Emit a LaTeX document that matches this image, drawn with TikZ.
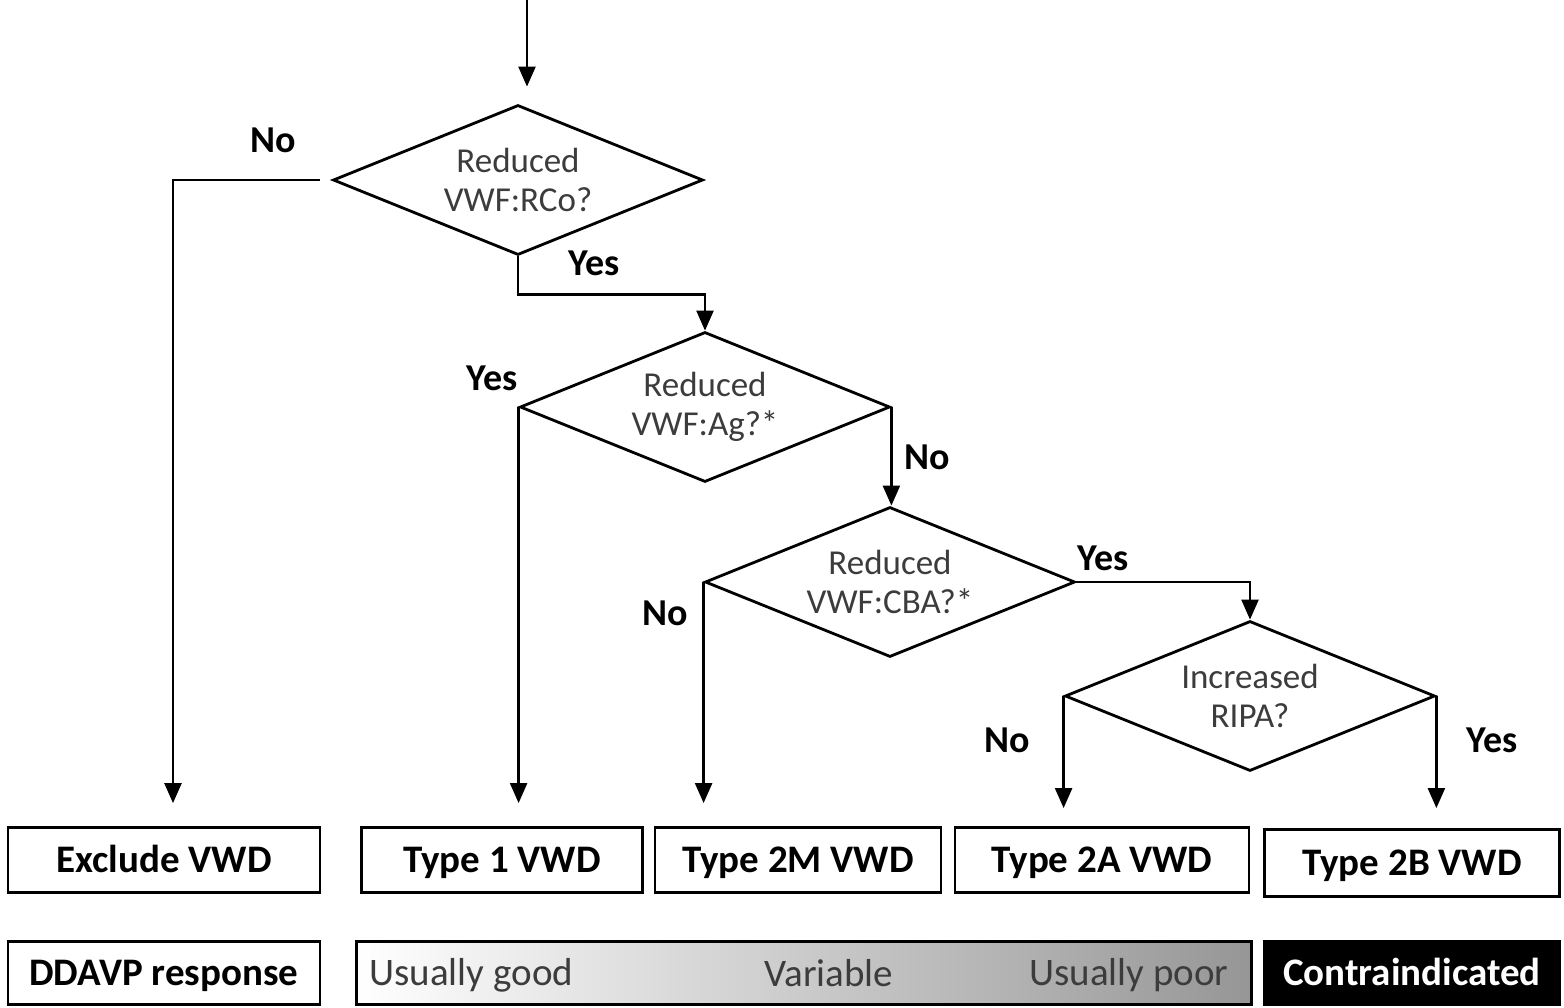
\documentclass[tikz,border=0pt]{standalone}
\usepackage{fontspec}
\setmainfont{Carlito}
\usetikzlibrary{shapes.geometric,arrows.meta}
\definecolor{txtgray}{RGB}{60,60,60}
\definecolor{bargray}{RGB}{150,150,150}

\begin{document}
\begin{tikzpicture}[x=1pt,y=-1pt,
  decision/.style={diamond,draw,line width=2.8pt,minimum width=370pt,minimum height=150pt,inner sep=0pt,aspect=2.47,align=center,text=txtgray,font=\fontsize{35}{39}\selectfont},
  result/.style={draw,line width=2.8pt,minimum height=65pt,inner sep=0pt,text height=25pt,text depth=0pt,font=\fontsize{39}{40}\selectfont\bfseries},
  answer/.style={font=\fontsize{38}{40}\selectfont\bfseries},
  link/.style={line width=2.3pt,-{Triangle[length=20pt,width=17pt]}}]
\useasboundingbox (0,0) rectangle (1564,1008);
% questions
\coordinate (start) at (527,0);
\node[decision] (rco) at (518,180) {Reduced\\VWF:RCo?};
\node[decision] (ag) at (705,407) {Reduced\\VWF:Ag?*};
\node[decision] (cba) at (890,582) {Reduced\\VWF:CBA?*};
\node[decision] (ripa) at (1250,696) {Increased\\RIPA?};
% diagnoses
\node[result,minimum width=312pt] (exclude) at (164,860) {Exclude VWD};
\node[result,minimum width=281pt] (type1) at (502,860) {Type 1 VWD};
\node[result,minimum width=286pt] (type2m) at (798,860) {Type 2M VWD};
\node[result,minimum width=294pt] (type2a) at (1102,860) {Type 2A VWD};
\node[result,minimum width=295pt,minimum height=67pt] (type2b) at (1412,863) {Type 2B VWD};
% DDAVP row
\node[result,minimum width=312pt,minimum height=63pt] (ddavp) at (164,973) {DDAVP response};
\node[draw,line width=2.8pt,minimum width=895pt,minimum height=63pt,left color=white,right color=bargray] (resp) at (804,973) {};
\node[font=\fontsize{39}{40}\selectfont,text=txtgray,anchor=west] (good) at (366,975) {Usually good};
\node[font=\fontsize{39}{40}\selectfont,text=txtgray] (variable) at (829,973) {Variable};
\node[font=\fontsize{39}{40}\selectfont,text=txtgray,anchor=east] (poor) at (1232,975) {Usually poor};
\node[result,minimum width=295pt,minimum height=63pt,fill=black,text=white] (contra) at (1412,973) {Contraindicated};
% answers
\node[answer] (no1) at (273,140) {No};
\node[answer] (yes1) at (594,263) {Yes};
\node[answer] (yes2) at (492,378) {Yes};
\node[answer] (no2) at (927,457) {No};
\node[answer] (no3) at (665,613) {No};
\node[answer] (yes3) at (1103,558) {Yes};
\node[answer] (no4) at (1007,740) {No};
\node[answer] (yes4) at (1492,740) {Yes};
% connectors
\draw[link,shorten >=17pt] (start) -- (start |- rco.north);
\draw[link,shorten >=23pt] ([xshift=-12pt]rco.west) -| ([xshift=9pt]exclude.north);
\draw[link] (rco.south) -- ++(0,38) -| (ag.north);
\draw[link,shorten >=23pt] (ag.west) -- (ag.west |- type1.north);
\draw[link] (ag.east) -- (ag.east |- cba.north);
\draw[link,shorten >=23pt] (cba.west) -- (cba.west |- type2m.north);
\draw[link] (cba.east) -| (ripa.north);
\draw[link,shorten >=18pt] (ripa.west) -- (ripa.west |- type2a.north);
\draw[link,shorten >=20pt] (ripa.east) -- (ripa.east |- type2b.north);
\end{tikzpicture}
\end{document}
